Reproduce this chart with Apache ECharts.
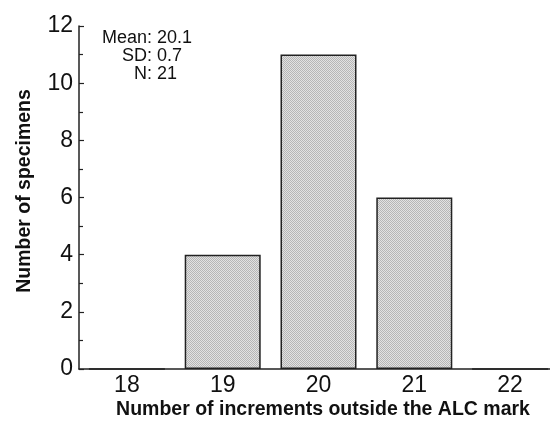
<!DOCTYPE html>
<html><head><meta charset="utf-8">
<script src="https://cdn.jsdelivr.net/npm/echarts@6/dist/echarts.min.js"></script>
<style>html,body{margin:0;padding:0;background:#fff}#c{width:550px;height:424px}</style>
</head><body><div id="c"></div>
<script>
var categories = ['18', '19', '20', '21', '22'];
var counts = [0, 4, 11, 6, 0];
var yTicks = [0, 2, 4, 6, 8, 10, 12];
var statLabels = ['Mean:', 'SD:', 'N:'];
var statValues = ['20.1', '0.7', '21'];
var xTitle = 'Number of increments outside the ALC mark';
var yTitle = 'Number of specimens';

var pc = document.createElement('canvas');
pc.width = 2; pc.height = 2;
var g = pc.getContext('2d');
g.fillStyle = '#e2e2e2'; g.fillRect(0,0,2,2);
g.fillStyle = '#b6b6b6'; g.fillRect(0,0,1,1); g.fillRect(1,1,1,1);

var chart = echarts.init(document.getElementById('c'), null, {renderer: 'canvas'});
var font = '"Liberation Sans", Arial, Helvetica, sans-serif';
var graphics = [];
statLabels.forEach(function (l, i) {
  graphics.push({type: 'text', x: 152, y: 38 + i * 18,
    style: {text: l, font: '18px ' + font, fill: '#111', textAlign: 'right', textVerticalAlign: 'middle'}});
  graphics.push({type: 'text', x: 157, y: 38 + i * 18,
    style: {text: statValues[i], font: '18px ' + font, fill: '#111', textAlign: 'left', textVerticalAlign: 'middle'}});
});
graphics.push({type: 'text', x: 323, y: 410,
  style: {text: xTitle, font: 'bold 19.5px ' + font, fill: '#111', textAlign: 'center', textVerticalAlign: 'middle'}});
graphics.push({type: 'text', x: 25, y: 191, rotation: Math.PI / 2,
  style: {text: yTitle, font: 'bold 19.5px ' + font, fill: '#111', textAlign: 'center', textVerticalAlign: 'middle'}});

chart.setOption({
  animation: false,
  grid: {left: 79, width: 479, top: 26, bottom: 55, containLabel: false, outerBoundsMode: 'none'},
  xAxis: {
    type: 'category', data: categories, boundaryGap: true,
    axisLine: {lineStyle: {color: '#222', width: 1.5}},
    axisTick: {show: false},
    axisLabel: {color: '#111', fontSize: 23, fontFamily: font, margin: 5}
  },
  yAxis: {
    type: 'value', min: 0, max: 12, interval: 2,
    axisLine: {show: true, lineStyle: {color: '#222', width: 1.5}},
    axisTick: {show: true, inside: true, length: 5, lineStyle: {color: '#222', width: 1.2}},
    minorTick: {show: true, splitNumber: 2, length: 4, lineStyle: {color: '#222', width: 1.2}},
    splitLine: {show: false},
    axisLabel: {color: '#111', fontSize: 23, fontFamily: font, margin: 6,
      formatter: function (v) { return yTicks.indexOf(v) >= 0 ? String(v) : ''; }}
  },
  series: [{
    type: 'bar', data: counts, barWidth: 76,
    itemStyle: {color: {image: pc, repeat: 'repeat'}, borderColor: '#222', borderWidth: 1.5}
  }],
  graphic: graphics
});
</script></body></html>
